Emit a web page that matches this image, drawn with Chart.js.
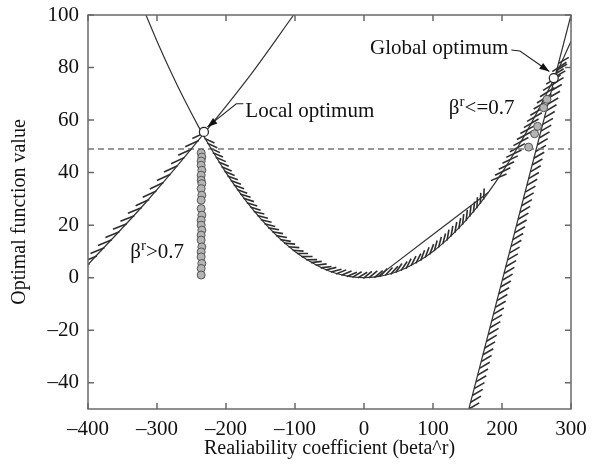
<!DOCTYPE html>
<html><head><meta charset="utf-8">
<script src="https://cdn.jsdelivr.net/npm/chart.js@4/dist/chart.umd.min.js"></script>
<style>html,body{margin:0;padding:0;background:#fff}#wrap{width:592px;height:464px}</style>
</head><body><div id="wrap"><canvas id="c" width="592" height="464"></canvas></div>
<script>
// ---- data ----
const xTicks = [-400, -300, -200, -100, 0, 100, 200, 300];
const yTicks = [-40, -20, 0, 20, 40, 60, 80, 100];

const parabolaX = [-316,-300,-280,-260,-240,-220,-200,-180,-160,-140,-120,-100,-80,-60,-40,-20,0,20,40,60,80,100,120,140,160,180,200,220,240,260,280,300];
const parabolaY = [100,90,78.4,67.6,57.6,48.4,40,32.4,25.6,19.6,14.4,10,6.4,3.6,1.6,0.4,0,0.4,1.6,3.6,6.4,10,14.4,19.6,25.6,32.4,40,48.4,57.6,67.6,78.4,90];

const leftLineX = [-400, -315, -230, -165, -102];
const leftLineY = [5, 29, 55.5, 77, 100];

const chordX = [20, 180];
const chordY = [0.4, 32.4];

const steepX = [152, 300];
const steepY = [-50, 100];

const thresholdX = [-400, 300];
const thresholdY = [49, 49];

const lowBetaX = [-236,-235,-236,-236,-235,-236,-236,-235,-236,-235,-236,-236,-235,-236,-236,-235,-236,-236,-235,-236,-236,-235,-236,-236];
const lowBetaY = [47.5,45.9,44.4,42.8,40.9,39.0,37.1,35.8,33.9,31.4,29.5,26.3,23.8,21.9,20.0,18.1,16.2,14.3,11.7,9.8,7.9,5.4,3.5,1.0];

const highBetaX = [238.6, 247.2, 251.6, 260.3, 265.2];
const highBetaY = [49.7, 54.8, 57.6, 64.7, 67.9];

const optimaX = [-232, 275];
const optimaY = [55.5, 76];

const labelLocal = 'Local optimum';
const labelGlobal = 'Global optimum';
const xTitle = 'Realiability coefficient (beta^r)';
const yTitle = 'Optimal function value';

// ---- helpers ----
const pts = (xs, ys) => xs.map((x, i) => ({x, y: ys[i]}));
const FONT = "'Liberation Serif', 'Times New Roman', serif";
const minus = v => String(v).replace('-', '\u2013');

// hatch style: data-x range, spacing (px), stroke rotation from tangent (deg), length (px), shift along stroke (fraction)
const hatchStyles = {
  leftLine: [{from: -400, to: -222, gap: 11, rot: 205, len: 15, shift: -0.1}],
  parabola: [
    {from: -232, to: 175, gap: 5.5, rot: -35, len: 11, shift: -0.1},
    {from: 195, to: 285, gap: 7, rot: 32, len: 17, shift: -0.5}
  ],
  steep: [{from: 152, to: 283, gap: 7, rot: 45, len: 12, shift: 0}]
};

const hatchPlugin = {
  id: 'hatch',
  beforeDatasetsDraw(chart) {
    const ctx = chart.ctx, area = chart.chartArea, xs = chart.scales.x;
    ctx.save();
    ctx.beginPath();
    ctx.rect(area.left, area.top, area.right - area.left, area.bottom - area.top);
    ctx.clip();
    ctx.strokeStyle = '#2e2e2e';
    ctx.lineWidth = 1.6;
    chart.data.datasets.forEach((ds, di) => {
      const styles = hatchStyles[ds.id];
      if (!styles) return;
      const els = chart.getDatasetMeta(di).data;
      styles.forEach(st => {
        const p0 = xs.getPixelForValue(st.from), p1 = xs.getPixelForValue(st.to);
        let next = 0, acc = 0;
        for (let i = 0; i < els.length - 1; i++) {
          const A = els[i], B = els[i + 1];
          const L = Math.hypot(B.x - A.x, B.y - A.y);
          const tang = Math.atan2(B.y - A.y, B.x - A.x);
          const ang = tang + st.rot * Math.PI / 180;
          const dx = Math.cos(ang) * st.len, dy = Math.sin(ang) * st.len;
          while (next <= acc + L) {
            const t = (next - acc) / L;
            const px = A.x + (B.x - A.x) * t, py = A.y + (B.y - A.y) * t;
            if (px >= p0 && px <= p1) {
              const sx = px + dx * st.shift, sy = py + dy * st.shift;
              ctx.beginPath();
              ctx.moveTo(sx, sy);
              ctx.lineTo(sx + dx, sy + dy);
              ctx.stroke();
            }
            next += st.gap;
          }
          acc += L;
        }
      });
    });
    ctx.restore();
  }
};

const framePlugin = {
  id: 'frame',
  afterDatasetsDraw(chart) {
    const ctx = chart.ctx, a = chart.chartArea, xs = chart.scales.x, ys = chart.scales.y;
    ctx.save();
    ctx.strokeStyle = '#6a6a6a';
    ctx.lineWidth = 1.5;
    ctx.strokeRect(a.left, a.top, a.right - a.left, a.bottom - a.top);
    ctx.beginPath();
    xTicks.forEach(v => {
      const p = xs.getPixelForValue(v);
      ctx.moveTo(p, a.bottom); ctx.lineTo(p, a.bottom - 6);
      ctx.moveTo(p, a.top); ctx.lineTo(p, a.top + 6);
    });
    yTicks.forEach(v => {
      const p = ys.getPixelForValue(v);
      ctx.moveTo(a.left, p); ctx.lineTo(a.left + 6, p);
      ctx.moveTo(a.right, p); ctx.lineTo(a.right - 6, p);
    });
    ctx.stroke();
    ctx.restore();
  }
};

function arrow(ctx, path) {
  ctx.beginPath();
  ctx.moveTo(path[0][0], path[0][1]);
  for (let i = 1; i < path.length; i++) ctx.lineTo(path[i][0], path[i][1]);
  ctx.stroke();
  const [x1, y1] = path[path.length - 2], [x2, y2] = path[path.length - 1];
  const ang = Math.atan2(y2 - y1, x2 - x1), len = 10, w = 3.5;
  ctx.beginPath();
  ctx.moveTo(x2, y2);
  ctx.lineTo(x2 - len * Math.cos(ang) + w * Math.sin(ang), y2 - len * Math.sin(ang) - w * Math.cos(ang));
  ctx.lineTo(x2 - len * Math.cos(ang) - w * Math.sin(ang), y2 - len * Math.sin(ang) + w * Math.cos(ang));
  ctx.closePath();
  ctx.fill();
}

function betaLabel(ctx, x, y, rest) {
  ctx.textAlign = 'left';
  ctx.textBaseline = 'alphabetic';
  ctx.font = `21px ${FONT}`;
  ctx.fillText('\u03B2', x, y);
  let w = ctx.measureText('\u03B2').width;
  ctx.font = `15px ${FONT}`;
  ctx.fillText('r', x + w, y - 8);
  w += ctx.measureText('r').width;
  ctx.font = `21px ${FONT}`;
  ctx.fillText(rest, x + w, y);
}

const notePlugin = {
  id: 'notes',
  afterDatasetsDraw(chart) {
    const ctx = chart.ctx, xs = chart.scales.x, ys = chart.scales.y;
    const P = (x, y) => [xs.getPixelForValue(x), ys.getPixelForValue(y)];
    ctx.save();
    ctx.fillStyle = '#111';
    ctx.strokeStyle = '#222';
    ctx.lineWidth = 1.1;
    ctx.font = `21px ${FONT}`;
    ctx.textBaseline = 'middle';
    let p = P(-172, 63.4);
    ctx.textAlign = 'left';
    ctx.fillText(labelLocal, p[0], p[1]);
    arrow(ctx, [P(-174.8, 66.2), P(-185, 66.2), P(-227, 57.4)]);
    p = P(209, 87.1);
    ctx.textAlign = 'right';
    ctx.fillText(labelGlobal, p[0], p[1]);
    arrow(ctx, [P(213.5, 86.7), P(226, 86.3), P(268.6, 78.5)]);
    p = P(123, 62.5);
    betaLabel(ctx, p[0], p[1], '<=0.7');
    p = P(-338.7, 7.5);
    betaLabel(ctx, p[0], p[1], '>0.7');
    ctx.restore();
  }
};

const lineDs = (id, xs, ys, extra) => Object.assign({
  id, type: 'line', data: pts(xs, ys), borderColor: '#333', borderWidth: 1.2,
  pointRadius: 0, fill: false, cubicInterpolationMode: 'monotone', order: 5
}, extra || {});

new Chart(document.getElementById('c'), {
  type: 'scatter',
  data: {
    datasets: [
      {id: 'optima', data: pts(optimaX, optimaY), backgroundColor: '#fff', borderColor: '#222', borderWidth: 1.2, pointRadius: 4.5, order: 0},
      {id: 'low', data: pts(lowBetaX, lowBetaY), backgroundColor: '#b4b4b4', borderColor: '#555', borderWidth: 1, pointRadius: 4, order: 1},
      {id: 'high', data: pts(highBetaX, highBetaY), backgroundColor: '#b4b4b4', borderColor: '#555', borderWidth: 1, pointRadius: 4, order: 1},
      lineDs('parabola', parabolaX, parabolaY),
      lineDs('leftLine', leftLineX, leftLineY),
      lineDs('chord', chordX, chordY),
      lineDs('steep', steepX, steepY),
      lineDs('threshold', thresholdX, thresholdY, {borderColor: '#777', borderWidth: 1.5, borderDash: [6, 4]})
    ]
  },
  options: {
    responsive: false, animation: false, devicePixelRatio: 1,
    layout: {padding: {left: 0, right: 21, top: 15, bottom: 0}},
    plugins: {legend: {display: false}, tooltip: {enabled: false}},
    scales: {
      x: {
        type: 'linear', min: -400, max: 300,
        afterBuildTicks: s => { s.ticks = xTicks.map(v => ({value: v})); },
        afterFit: s => { s.height = 55; },
        grid: {display: false}, border: {display: false},
        ticks: {color: '#111', font: {family: FONT, size: 21}, padding: 0, maxRotation: 0, callback: minus},
        title: {display: true, text: xTitle, color: '#111', font: {family: FONT, size: 20}, padding: {top: 0, bottom: 3}}
      },
      y: {
        type: 'linear', min: -50, max: 100,
        afterBuildTicks: s => { s.ticks = yTicks.map(v => ({value: v})); },
        afterFit: s => { s.width = 88; },
        grid: {display: false}, border: {display: false},
        ticks: {color: '#111', font: {family: FONT, size: 21}, padding: 1, callback: minus},
        title: {display: true, text: yTitle, color: '#111', font: {family: FONT, size: 20}, padding: {top: 8, bottom: 0}}
      }
    }
  },
  plugins: [hatchPlugin, framePlugin, notePlugin]
});
</script>
</body></html>
